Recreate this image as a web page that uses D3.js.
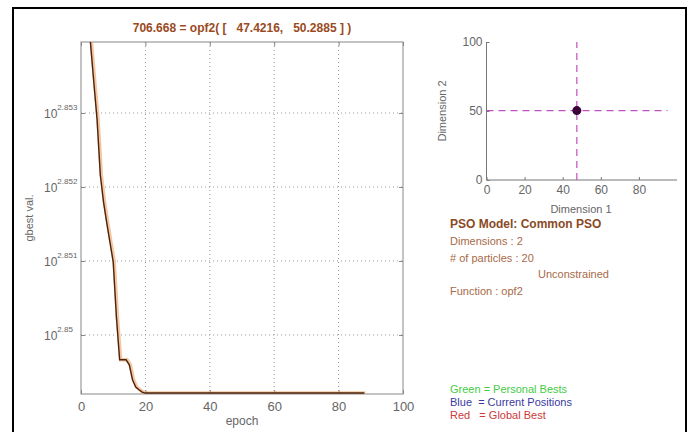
<!DOCTYPE html>
<html><head><meta charset="utf-8">
<script src="https://cdn.jsdelivr.net/npm/d3@7"></script>
<style>
html,body{margin:0;padding:0;background:#fff;}
svg{display:block;font-family:"Liberation Sans",Arial,sans-serif;}
text{white-space:pre;}
</style></head>
<body>
<svg id="c" width="691" height="432"></svg>
<script>
// ---- data ----
const epochs = d3.range(1, 89);
const gbestHead = [716.14, 715.32, 714.36, 713.52, 712.70, 711.48, 710.88, 710.42, 709.99, 709.56,
                   708.34, 707.40, 707.40, 707.40, 707.29, 706.96, 706.80, 706.74, 706.69];
const gbestTail = new Array(88 - gbestHead.length).fill(706.668);
const gbestVal = gbestHead.concat(gbestTail);
const xTicks = [0, 20, 40, 60, 80, 100];
const yTickExp = ["2.85", "2.851", "2.852", "2.853"];
const bestPos = [47.4216, 50.2885];
const bestVal = 706.668;
const dimTicksX = [0, 20, 40, 60, 80];
const dimTicksY = [0, 50, 100];
const infoLines = ["Dimensions : 2", "# of particles : 20"];
const legendLines = [
  {t: "Green = Personal Bests", c: "#44cc44"},
  {t: "Blue  = Current Positions", c: "#3a3aa0"},
  {t: "Red   = Global Best", c: "#cc3a3a"}
];

const svg = d3.select("#c");

// frame
svg.append("path").attr("d", "M13,440V8H686V440").attr("fill", "none")
  .attr("stroke", "#000").attr("stroke-width", 2);

// ---- main plot ----
const L = 81, R = 403, T = 42, B = 394;
const x = d3.scaleLinear().domain([0, 100]).range([L, R]);
const y = d3.scaleLog().domain([706.647, 714.43]).range([B, T]);
const yTickVals = yTickExp.map(e => Math.pow(10, +e));

const g = svg.append("g");
// grid
g.selectAll(".gx").data(xTicks.slice(1, -1)).join("line")
  .attr("x1", d => x(d)).attr("x2", d => x(d)).attr("y1", T).attr("y2", B)
  .attr("stroke", "#999").attr("stroke-dasharray", "1,3");
g.selectAll(".gy").data(yTickVals).join("line")
  .attr("x1", L).attr("x2", R).attr("y1", d => y(d)).attr("y2", d => y(d))
  .attr("stroke", "#999").attr("stroke-dasharray", "1,3");

// axes via d3
const xAxis = d3.axisBottom(x).tickValues(xTicks).tickSize(-4).tickPadding(8);
const gx = g.append("g").attr("transform", `translate(0,${B})`).call(xAxis);
gx.select(".domain").remove();
gx.selectAll("line").attr("stroke", "#888");
gx.selectAll("text").attr("fill", "#666").attr("font-size", 13);
// top ticks
g.append("g").attr("transform", `translate(0,${T})`)
  .call(d3.axisTop(x).tickValues(xTicks).tickSize(-4).tickFormat(""))
  .call(s => { s.select(".domain").remove(); s.selectAll("line").attr("stroke", "#888"); });

const yAxis = d3.axisLeft(y).tickValues(yTickVals).tickSize(-4).tickPadding(6).tickFormat("");
const gy = g.append("g").attr("transform", `translate(${L},0)`).call(yAxis);
gy.select(".domain").remove();
gy.selectAll("line").attr("stroke", "#888");
g.append("g").attr("transform", `translate(${R},0)`)
  .call(d3.axisRight(y).tickValues(yTickVals).tickSize(-4).tickFormat(""))
  .call(s => { s.select(".domain").remove(); s.selectAll("line").attr("stroke", "#888"); });

// y tick labels with superscript
yTickVals.forEach((v, i) => {
  const t = g.append("text").attr("x", 44).attr("y", y(v) + 5)
    .attr("fill", "#666").attr("font-size", 12);
  t.append("tspan").text("10");
  t.append("tspan").attr("dy", -8).attr("font-size", 8).text(yTickExp[i]);
});

// box
g.append("rect").attr("x", L).attr("y", T).attr("width", R - L).attr("height", B - T)
  .attr("fill", "none").attr("stroke", "#888");

// clip
svg.append("clipPath").attr("id", "clp").append("rect")
  .attr("x", L).attr("y", T).attr("width", R - L).attr("height", B - T);

const line = d3.line().x((d, i) => x(epochs[i])).y(d => y(d));
g.append("path").datum(gbestVal).attr("clip-path", "url(#clp)")
  .attr("d", line).attr("fill", "none").attr("stroke", "#f0a060")
  .attr("stroke-width", 3.5).attr("opacity", 0.6).attr("transform", "translate(1,0)");
g.append("path").datum(gbestVal).attr("clip-path", "url(#clp)")
  .attr("d", line).attr("fill", "none").attr("stroke", "#4a2410")
  .attr("stroke-width", 1.4);

// title & labels
svg.append("text").attr("x", (L + R) / 2).attr("y", 32).attr("text-anchor", "middle")
  .attr("fill", "#9a4a22").attr("font-weight", "bold").attr("font-size", 12)
  .text(`${bestVal.toFixed(3)} = opf2( [   ${bestPos[0].toFixed(4)},   ${bestPos[1].toFixed(4)} ] )`);
svg.append("text").attr("x", (L + R) / 2).attr("y", 425).attr("text-anchor", "middle")
  .attr("fill", "#666").attr("font-size", 12).text("epoch");
svg.append("text").attr("transform", `translate(33,${(T + B) / 2}) rotate(-90)`)
  .attr("text-anchor", "middle").attr("fill", "#666").attr("font-size", 11).text("gbest val.");

// ---- scatter panel ----
const sx = d3.scaleLinear().domain([0, 100]).range([486.5, 677]);
const sy = d3.scaleLinear().domain([0, 100]).range([180, 42]);
const s = svg.append("g");
const sxa = s.append("g").attr("transform", "translate(0,180)")
  .call(d3.axisBottom(sx).tickValues(dimTicksX).tickSize(-3).tickPadding(5));
sxa.select(".domain").attr("stroke", "#777").attr("d", `M${sx(0)},0H${sx(100)}`);
sxa.selectAll("line").attr("stroke", "#777");
sxa.selectAll("text").attr("fill", "#666").attr("font-size", 12);
const sya = s.append("g").attr("transform", "translate(486.5,0)")
  .call(d3.axisLeft(sy).tickValues(dimTicksY).tickSize(-3).tickPadding(4));
sya.select(".domain").attr("stroke", "#777").attr("d", `M0,${sy(0)}V${sy(100)}`);
sya.selectAll("line").attr("stroke", "#777");
sya.selectAll("text").attr("fill", "#666").attr("font-size", 12);

s.append("line").attr("x1", sx(0)).attr("x2", sx(95)).attr("y1", sy(bestPos[1])).attr("y2", sy(bestPos[1]))
  .attr("stroke", "#c050c0").attr("stroke-width", 1.2).attr("stroke-dasharray", "7,5");
s.append("line").attr("x1", sx(bestPos[0])).attr("x2", sx(bestPos[0])).attr("y1", sy(0)).attr("y2", sy(100))
  .attr("stroke", "#c050c0").attr("stroke-width", 1.2).attr("stroke-dasharray", "7,5");
s.append("circle").attr("cx", sx(bestPos[0])).attr("cy", sy(bestPos[1])).attr("r", 4.5)
  .attr("fill", "#3a0038");

s.append("text").attr("x", 581).attr("y", 213).attr("text-anchor", "middle")
  .attr("fill", "#666").attr("font-size", 11).text("Dimension 1");
s.append("text").attr("transform", `translate(446,111) rotate(-90)`)
  .attr("text-anchor", "middle").attr("fill", "#666").attr("font-size", 11).text("Dimension 2");

// info text
svg.append("text").attr("x", 450).attr("y", 228).attr("fill", "#8a4a26")
  .attr("font-weight", "bold").attr("font-size", 12).text("PSO Model: Common PSO");
infoLines.forEach((t, i) => {
  svg.append("text").attr("x", 450).attr("y", 245 + i * 16.5).attr("fill", "#a86a48")
    .attr("font-size", 11).text(t);
});
svg.append("text").attr("x", 538).attr("y", 278).attr("fill", "#a86a48")
  .attr("font-size", 11).text("Unconstrained");
svg.append("text").attr("x", 450).attr("y", 295).attr("fill", "#a86a48")
  .attr("font-size", 11).text("Function : opf2");
legendLines.forEach((d, i) => {
  svg.append("text").attr("x", 450).attr("y", 393 + i * 13).attr("fill", d.c)
    .attr("font-size", 11).text(d.t);
});
</script>
</body></html>
